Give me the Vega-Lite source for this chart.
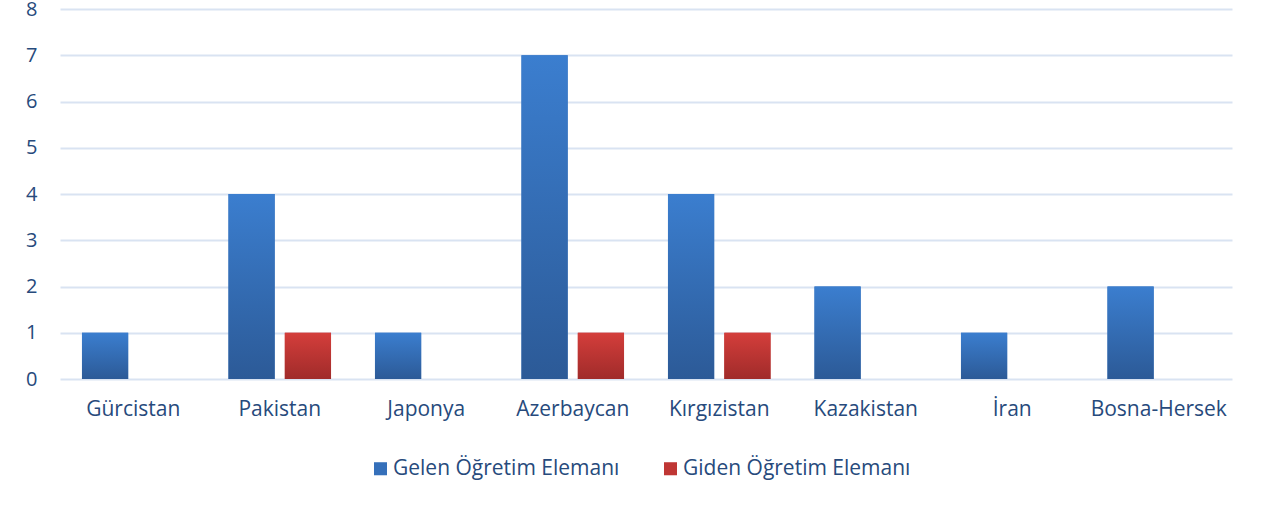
{
  "$schema": "https://vega.github.io/schema/vega-lite/v6.json",
  "width": 1172,
  "height": 370,
  "autosize": {"type": "none"},
  "padding": {"left": 60, "top": 9, "right": 30, "bottom": 127},
  "background": "white",
  "data": {"values": [
    {"ulke": "Gürcistan", "tur": "Gelen Öğretim Elemanı", "sayi": 1},
    {"ulke": "Pakistan", "tur": "Gelen Öğretim Elemanı", "sayi": 4},
    {"ulke": "Pakistan", "tur": "Giden Öğretim Elemanı", "sayi": 1},
    {"ulke": "Japonya", "tur": "Gelen Öğretim Elemanı", "sayi": 1},
    {"ulke": "Azerbaycan", "tur": "Gelen Öğretim Elemanı", "sayi": 7},
    {"ulke": "Azerbaycan", "tur": "Giden Öğretim Elemanı", "sayi": 1},
    {"ulke": "Kırgızistan", "tur": "Gelen Öğretim Elemanı", "sayi": 4},
    {"ulke": "Kırgızistan", "tur": "Giden Öğretim Elemanı", "sayi": 1},
    {"ulke": "Kazakistan", "tur": "Gelen Öğretim Elemanı", "sayi": 2},
    {"ulke": "İran", "tur": "Gelen Öğretim Elemanı", "sayi": 1},
    {"ulke": "Bosna-Hersek", "tur": "Gelen Öğretim Elemanı", "sayi": 2}
  ]},
  "encoding": {
    "x": {
      "field": "ulke", "type": "nominal", "sort": null,
      "scale": {"domain": ["Gürcistan", "Pakistan", "Japonya", "Azerbaycan", "Kırgızistan", "Kazakistan", "İran", "Bosna-Hersek"], "paddingInner": 0.3, "paddingOuter": 0.15},
      "axis": {"title": null, "labelAngle": 0, "ticks": false, "domain": false, "labelPadding": 19, "labelFontSize": 21, "labelFont": "Open Sans", "labelColor": "#274A7C", "grid": false}
    },
    "xOffset": {
      "field": "tur", "type": "nominal",
      "scale": {"domain": ["Gelen Öğretim Elemanı", "Giden Öğretim Elemanı"], "paddingInner": 0.18}
    },
    "y": {
      "field": "sayi", "type": "quantitative",
      "scale": {"domain": [0, 8]},
      "axis": {"title": null, "values": [0,1,2,3,4,5,6,7,8], "ticks": false, "domain": false, "labelPadding": 23, "labelFontSize": 20, "labelFont": "Open Sans", "labelColor": "#274A7C", "gridColor": "#D9E3F2", "gridWidth": 2}
    }
  },
  "layer": [
    {
      "mark": {"type": "bar"},
      "encoding": {
        "color": {
          "field": "tur", "type": "nominal",
          "scale": {"domain": ["Gelen Öğretim Elemanı", "Giden Öğretim Elemanı"], "range": ["#3570BA", "#BF3634"]},
          "legend": {"title": null, "orient": "none", "legendX": 310, "legendY": 449, "direction": "horizontal", "symbolType": "square", "symbolSize": 170, "symbolOpacity": 1, "symbolStrokeWidth": 0, "labelFontSize": 21, "labelFont": "Open Sans", "labelColor": "#274A7C", "labelLimit": 400, "columnPadding": 40, "labelOffset": 2}
        }
      }
    },
    {
      "transform": [{"filter": "datum.tur === 'Gelen Öğretim Elemanı'"}],
      "mark": {"type": "bar", "color": {"gradient": "linear", "x1": 0, "y1": 0, "x2": 0, "y2": 1, "stops": [{"offset": 0, "color": "#3B7ECF"}, {"offset": 1, "color": "#2C5A97"}]}}
    },
    {
      "transform": [{"filter": "datum.tur === 'Giden Öğretim Elemanı'"}],
      "mark": {"type": "bar", "color": {"gradient": "linear", "x1": 0, "y1": 0, "x2": 0, "y2": 1, "stops": [{"offset": 0, "color": "#D43E3B"}, {"offset": 1, "color": "#A02B2A"}]}}
    }
  ],
  "config": {"view": {"stroke": null}}
}
